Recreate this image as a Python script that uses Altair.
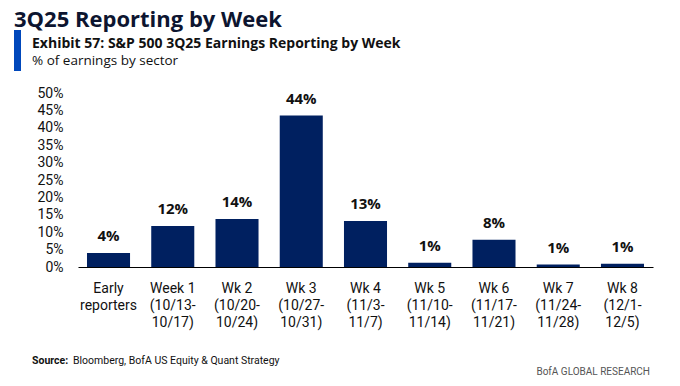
import altair as alt
import pandas as pd

categories = ["Early\nreporters", "Week 1\n(10/13-\n10/17)", "Wk 2\n(10/20-\n10/24)", "Wk 3\n(10/27-\n10/31)",
              "Wk 4\n(11/3-\n11/7)", "Wk 5\n(11/10-\n11/14)", "Wk 6\n(11/17-\n11/21)", "Wk 7\n(11/24-\n11/28)",
              "Wk 8\n(12/1-\n12/5)"]
values = [4.0, 11.8, 13.8, 43.5, 13.2, 1.2, 7.8, 0.7, 0.9]
y_ticks = [0, 5, 10, 15, 20, 25, 30, 35, 40, 45, 50]

df = pd.DataFrame({"cat": categories, "value": values})

NAVY = "#002060"
FONT = "Open Sans"
LAB = "Roboto"

xenc = alt.X("cat:N", sort=categories, title=None,
             scale=alt.Scale(paddingInner=0.33, paddingOuter=0.14),
             axis=alt.Axis(labelAngle=0, labelExpr="split(datum.value, '\\n')", labelFont=LAB,
                           labelFontSize=14, labelColor="#111111", labelLineHeight=17, labelPadding=25,
                           ticks=False, domainColor="#000000", domainWidth=1.2, labelBaseline="alphabetic"))
yenc = alt.Y("value:Q", title=None, scale=alt.Scale(domain=[0, 50], nice=False),
             axis=alt.Axis(values=y_ticks, labelExpr="datum.value + '%'", grid=False, ticks=False,
                           domain=False, labelFont=LAB, labelFontSize=14, labelColor="#111111",
                           labelPadding=15, labelOverlap=False))

base = alt.Chart(df)
bars = base.mark_bar(color=NAVY).encode(x=xenc, y=yenc)
labels = base.transform_calculate(lbl="format(datum.value, '.0f') + '%'").mark_text(
    font=FONT, fontWeight="bold", fontSize=15, baseline="alphabetic", dy=-12, color="#111111"
).encode(x=xenc, y=yenc, text="lbl:N")

ann = pd.DataFrame({"k": [0]})
title = alt.Chart(ann).mark_text(text="3Q25 Reporting by Week", font=FONT, fontWeight="bold", fontSize=22,
                                 align="left", baseline="alphabetic", color="#0d1530").encode(
    x=alt.value(-64), y=alt.value(-66))
bluebar = alt.Chart(ann).mark_rect(color="#0047bb").encode(
    x=alt.value(-64), x2=alt.value(-57), y=alt.value(-63), y2=alt.value(-22))
exhibit = alt.Chart(ann).mark_text(text="Exhibit 57: S&P 500 3Q25 Earnings Reporting by Week", font=FONT,
                                   fontWeight="bold", fontSize=14, align="left", baseline="alphabetic",
                                   color="#111111").encode(x=alt.value(-46), y=alt.value(-45))
sub = alt.Chart(ann).mark_text(text="% of earnings by sector", font=FONT, fontSize=13.5, align="left",
                               baseline="alphabetic", color="#111111").encode(x=alt.value(-46), y=alt.value(-28))
src_b = alt.Chart(ann).mark_text(text="Source:", font=LAB, fontWeight="bold", fontSize=10.5, align="left",
                                 baseline="alphabetic", color="#111111").encode(x=alt.value(-46), y=alt.value(271))
src = alt.Chart(ann).mark_text(text="Bloomberg, BofA US Equity & Quant Strategy", font=LAB, fontSize=10.5,
                               align="left", baseline="alphabetic", color="#111111").encode(
    x=alt.value(-5), y=alt.value(271))
bofa = alt.Chart(ann).mark_text(text="BofA GLOBAL RESEARCH", font=LAB, fontSize=10, align="right",
                                baseline="alphabetic", color="#555555").encode(x=alt.value(572), y=alt.value(282))

chart = alt.layer(bars, labels, title, bluebar, exhibit, sub, src_b, src, bofa).properties(
    width=575, height=174, autosize=alt.AutoSizeParams(type="none"), background="white",
    padding={"left": 70, "top": 85, "right": 19, "bottom": 111}
).configure_view(strokeWidth=0)

chart.save("out.html", embed_options={"renderer": "svg", "actions": False})
